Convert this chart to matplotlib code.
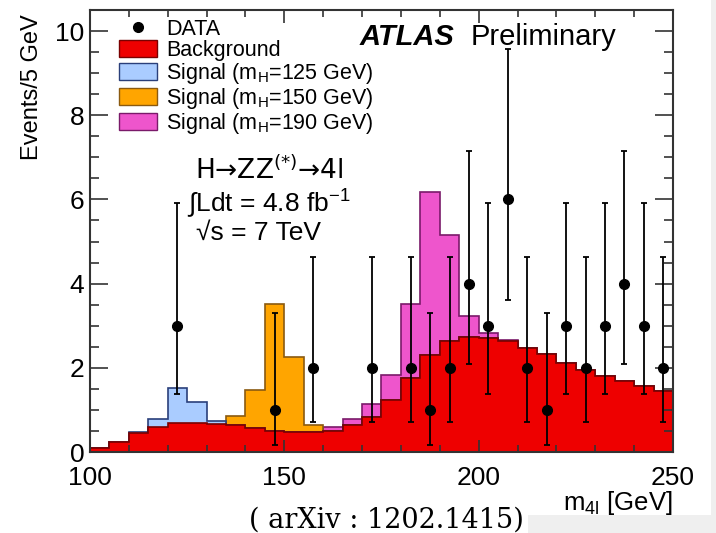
import numpy as np
import matplotlib
matplotlib.use("Agg")
import matplotlib.pyplot as plt
from matplotlib.patches import Patch, Rectangle
from matplotlib.lines import Line2D
from matplotlib.ticker import MultipleLocator

plt.rcParams['font.family'] = ['Liberation Sans', 'DejaVu Sans']
plt.rcParams['mathtext.fontset'] = 'custom'
plt.rcParams['mathtext.rm'] = 'Liberation Sans'
plt.rcParams['mathtext.it'] = 'Liberation Sans:italic'
plt.rcParams['mathtext.default'] = 'regular'
plt.rcParams['mathtext.fallback'] = 'stixsans'

# 5 GeV bins, 100 - 250 GeV
edges = np.arange(100, 255, 5)

background = [0.10, 0.24, 0.45, 0.60, 0.68, 0.68, 0.66, 0.64, 0.56, 0.50,
              0.48, 0.48, 0.50, 0.64, 0.83, 1.23, 1.75, 2.30, 2.64, 2.74,
              2.70, 2.64, 2.46, 2.32, 2.12, 1.95, 1.80, 1.69, 1.56, 1.45]

sig125 = [0, 0, 0.02, 0.19, 0.85, 0.51, 0.07, 0, 0, 0,
          0, 0, 0, 0, 0, 0, 0, 0, 0, 0,
          0, 0, 0, 0, 0, 0, 0, 0, 0, 0]

sig150 = [0, 0, 0, 0, 0, 0, 0.04, 0.21, 0.91, 3.01,
          1.77, 0.16, 0, 0, 0, 0, 0, 0, 0, 0,
          0, 0, 0, 0, 0, 0, 0, 0, 0, 0]

sig190 = [0, 0, 0, 0, 0, 0, 0, 0, 0, 0.02,
          0.01, 0.02, 0.10, 0.15, 0.30, 0.61, 1.76, 3.87, 2.52, 0.50,
          0.12, 0.02, 0, 0, 0, 0, 0, 0, 0, 0]

# observed events (bins with zero counts have no marker)
data_x = [122.5, 147.5, 157.5, 172.5, 182.5, 187.5, 192.5, 197.5, 202.5,
          207.5, 212.5, 217.5, 222.5, 227.5, 232.5, 237.5, 242.5, 247.5]
data_n = [3, 1, 2, 2, 2, 1, 2, 4, 3, 6, 2, 1, 3, 2, 3, 4, 3, 2]
# 68% Poisson interval edges
data_lo = [1.37, 0.17, 0.71, 0.71, 0.71, 0.17, 0.71, 2.09, 1.37,
           3.62, 0.71, 0.17, 1.37, 0.71, 1.37, 2.09, 1.37, 0.71]
data_hi = [5.92, 3.30, 4.64, 4.64, 4.64, 3.30, 4.64, 7.16, 5.92,
           9.58, 4.64, 3.30, 5.92, 4.64, 5.92, 7.16, 5.92, 4.64]

bkg = np.array(background)

fig = plt.figure(figsize=(7.16, 5.33), dpi=100, facecolor='#efefef')
# white slide area (the screenshot has a grey margin bottom right)
fig.patches.append(Rectangle((0, 18/533), 711/716, 515/533, transform=fig.transFigure,
                             facecolor='white', edgecolor='none', zorder=-10))
fig.patches.append(Rectangle((0, 0), 528/716, 20/533, transform=fig.transFigure,
                             facecolor='white', edgecolor='none', zorder=-10))

ax = fig.add_axes([90/716, 81/533, 583/716, 442/533])
ax.set_facecolor('white')

ax.stairs(bkg + np.array(sig190), edges, fill=True, facecolor='#ee55cc', edgecolor='#7a1a6a', lw=1.2)
ax.stairs(bkg + np.array(sig150), edges, fill=True, facecolor='#ffa500', edgecolor='#8a5a10', lw=1.2)
ax.stairs(bkg + np.array(sig125), edges, fill=True, facecolor='#aaccff', edgecolor='#2a3f7a', lw=1.2)
ax.stairs(bkg, edges, fill=True, facecolor='#ee0000', edgecolor='#7a0000', lw=1.2)

n = np.array(data_n)
yerr = [n - np.array(data_lo), np.array(data_hi) - n]
ax.errorbar(data_x, data_n, yerr=yerr, fmt='o', color='black', ms=7,
            elinewidth=1.3, capsize=2.5, capthick=1.3)

ax.set_xlim(100, 250)
ax.set_ylim(0, 10.5)
ax.xaxis.set_major_locator(MultipleLocator(50))
ax.xaxis.set_minor_locator(MultipleLocator(10))
ax.yaxis.set_major_locator(MultipleLocator(2))
ax.yaxis.set_minor_locator(MultipleLocator(0.5))
ax.tick_params(which='both', direction='in', top=True, right=True, width=1.2, colors='#333333')
ax.tick_params(axis='x', which='major', length=9, labelsize=19, pad=10, labelcolor='black')
ax.tick_params(axis='x', which='minor', length=5)
ax.tick_params(axis='y', which='major', length=13, labelsize=19, pad=4, labelcolor='black')
ax.tick_params(axis='y', which='minor', length=6.5)
for s in ax.spines.values():
    s.set_linewidth(1.5)
    s.set_color('#333333')

handles = [Line2D([], [], marker='o', ls='none', color='black', ms=7),
           Patch(facecolor='#ee0000', edgecolor='#7a0000'),
           Patch(facecolor='#aaccff', edgecolor='#2a3f7a'),
           Patch(facecolor='#ffa500', edgecolor='#8a5a10'),
           Patch(facecolor='#ee55cc', edgecolor='#7a1a6a')]
labels = ['DATA', 'Background', 'Signal (m$_{H}$=125 GeV)',
          'Signal (m$_{H}$=150 GeV)', 'Signal (m$_{H}$=190 GeV)']
ax.legend(handles, labels, loc='upper left', bbox_to_anchor=((119-90)/583, (452-19)/442),
          frameon=False, fontsize=15.5, handlelength=1.75, handleheight=0.8,
          handletextpad=0.45, labelspacing=0.0, borderpad=0, borderaxespad=0)

fig.text(360/716, 1-45/533, 'ATLAS', fontsize=21, fontweight='bold', style='italic', va='baseline')
fig.text(471/716, 1-45/533, 'Preliminary', fontsize=21, va='baseline')

fig.text(195/716, 1-179/533, 'H\u2192ZZ$^{(*)}$\u21924l', fontsize=19, va='baseline',
         family=['DejaVu Sans'])
fig.text(187/716, 1-212/533, '\u222bLdt = 4.8 fb$^{-1}$', fontsize=19, va='baseline')
fig.text(196/716, 1-240/533, '\u221as = 7 TeV', fontsize=19, va='baseline')

fig.text(32/716, 1-14/533, 'Events/5 GeV', fontsize=17, rotation=90, ha='center', va='top')
fig.text(673/716, 1-510/533, 'm$_{4l}$ [GeV]', fontsize=18.5, ha='right', va='baseline')
fig.text(386/716, 1-528/533, '( arXiv : 1202.1415)', fontsize=19.5, ha='center', va='baseline',
         family='DejaVu Serif')

fig.savefig('out.png', dpi=100, facecolor=fig.get_facecolor())
